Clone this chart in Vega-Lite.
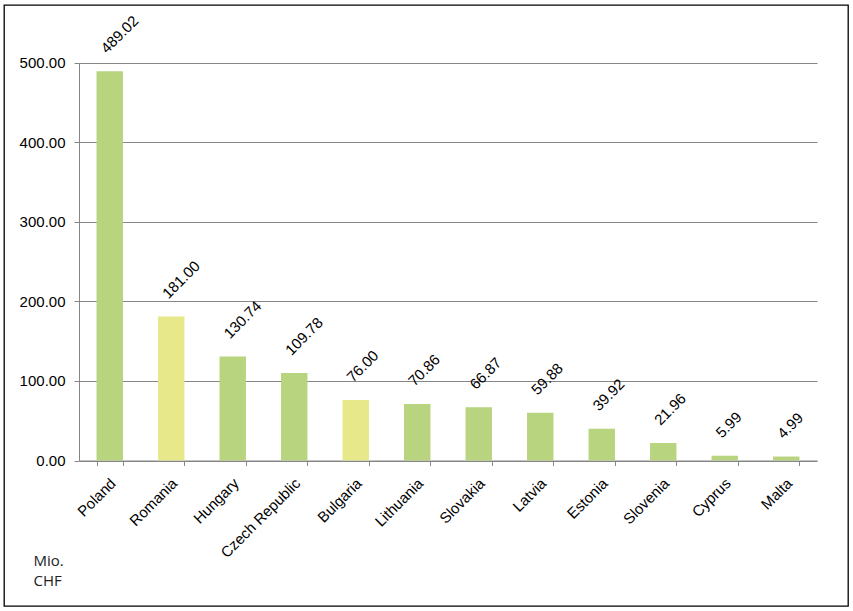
{
  "$schema": "https://vega.github.io/schema/vega-lite/v6.json",
  "width": 844,
  "height": 601,
  "autosize": {"type": "none"},
  "padding": {"left": 4, "top": 5, "right": 5, "bottom": 5},
  "background": "white",
  "config": {
    "view": {"stroke": "#000000", "strokeWidth": 1.3},
    "font": "Liberation Sans"
  },
  "data": {
    "values": [
      {"country": "Poland", "value": 489.02, "accession": "2004"},
      {"country": "Romania", "value": 181.00, "accession": "2007"},
      {"country": "Hungary", "value": 130.74, "accession": "2004"},
      {"country": "Czech Republic", "value": 109.78, "accession": "2004"},
      {"country": "Bulgaria", "value": 76.00, "accession": "2007"},
      {"country": "Lithuania", "value": 70.86, "accession": "2004"},
      {"country": "Slovakia", "value": 66.87, "accession": "2004"},
      {"country": "Latvia", "value": 59.88, "accession": "2004"},
      {"country": "Estonia", "value": 39.92, "accession": "2004"},
      {"country": "Slovenia", "value": 21.96, "accession": "2004"},
      {"country": "Cyprus", "value": 5.99, "accession": "2004"},
      {"country": "Malta", "value": 4.99, "accession": "2004"}
    ]
  },
  "encoding": {
    "x": {
      "field": "country",
      "type": "nominal",
      "sort": null,
      "scale": {"range": [75, 813], "paddingInner": 0.57, "paddingOuter": 0.285},
      "axis": {
        "title": null,
        "offset": -145.5,
        "labelAngle": -45,
        "labelAlign": "right",
        "labelBaseline": "top",
        "labelPadding": 10,
        "labelOffset": -2,
        "labelFontSize": 15,
        "labelColor": "#000000",
        "domainColor": "#868686",
        "tickColor": "#868686",
        "tickSize": 5,
        "tickBand": "extent",
        "grid": false
      }
    },
    "y": {
      "field": "value",
      "type": "quantitative",
      "scale": {"domain": [0, 500], "range": [455.5, 57.5], "nice": false},
      "axis": {
        "offset": -75,
        "values": [0, 100, 200, 300, 400, 500],
        "format": ".2f",
        "grid": true,
        "gridColor": "#868686",
        "domainColor": "#868686",
        "tickColor": "#868686",
        "tickSize": 5,
        "labelPadding": 9,
        "labelFontSize": 15,
        "labelColor": "#000000",
        "title": ["Mio.", "CHF"],
        "titleAngle": 0,
        "titleX": -46,
        "titleY": 548,
        "titleAlign": "left",
        "titleBaseline": "top",
        "titleFont": "Open Sans",
        "titleFontWeight": "normal",
        "titleFontSize": 15,
        "titleLineHeight": 20,
        "titleColor": "#222222"
      }
    }
  },
  "layer": [
    {
      "mark": {"type": "bar"},
      "encoding": {
        "color": {
          "field": "accession",
          "type": "nominal",
          "scale": {"domain": ["2004", "2007"], "range": ["#b9d47f", "#e6e889"]},
          "legend": null
        }
      }
    },
    {
      "mark": {
        "type": "text",
        "angle": -45,
        "align": "left",
        "baseline": "alphabetic",
        "dx": 10,
        "dy": -14,
        "fontSize": 15,
        "color": "#000000"
      },
      "encoding": {
        "text": {"field": "value", "type": "quantitative", "format": ".2f"}
      }
    }
  ]
}
